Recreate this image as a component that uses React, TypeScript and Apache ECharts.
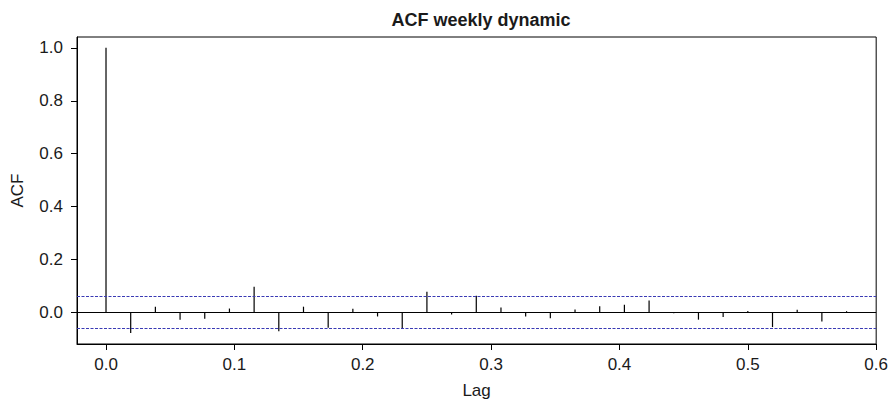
import React, { useEffect, useRef } from "react";
import * as echarts from "echarts";

const lags: number[] = Array.from({ length: 31 }, (_, i) => i / 52);
const acfValues: number[] = [
  1.0, -0.077, 0.022, -0.027, -0.024, 0.015, 0.097, -0.071, 0.022, -0.058,
  0.014, -0.015, -0.061, 0.078, -0.008, 0.063, 0.019, -0.015, -0.022, 0.011,
  0.024, 0.029, 0.045, -0.003, -0.027, -0.017, 0.006, -0.055, 0.01, -0.034,
  0.005,
];
const confLimit = 0.057;
const xTicks = [0, 0.1, 0.2, 0.3, 0.4, 0.5, 0.6];
const yTicks = [0, 0.2, 0.4, 0.6, 0.8, 1.0];

export default function App() {
  const ref = useRef<HTMLDivElement>(null);
  useEffect(() => {
    document.body.style.margin = "0";
    if (!ref.current) return;
    const chart = echarts.init(ref.current, null, { renderer: "svg" });
    const font = "'Liberation Sans', Arial, sans-serif";
    chart.setOption({
      animation: false,
      title: {
        text: "ACF weekly dynamic",
        left: 476,
        top: 6,
        textAlign: "center",
        textStyle: { fontFamily: font, fontSize: 18, fontWeight: "bold", color: "#1a1a1a" },
      },
      grid: {
        left: 77,
        right: 14,
        top: 37,
        bottom: 56,
        show: true,
        borderColor: "#000",
        borderWidth: 1,
        backgroundColor: "transparent",
      },
      xAxis: {
        type: "value",
        min: -0.0226,
        max: 0.6,
        name: "Lag",
        nameLocation: "middle",
        nameGap: 38,
        nameTextStyle: { fontFamily: font, fontSize: 17, color: "#1a1a1a" },
        axisLine: { onZero: false, lineStyle: { color: "#000" } },
        splitLine: { show: false },
        axisTick: { show: true, length: 6, customValues: xTicks, lineStyle: { color: "#000" } },
        axisLabel: {
          customValues: xTicks,
          margin: 12,
          fontFamily: font,
          fontSize: 17,
          color: "#1a1a1a",
          formatter: (v: number) => v.toFixed(1),
        },
      },
      yAxis: {
        type: "value",
        min: -0.119,
        max: 1.041,
        name: "ACF",
        nameLocation: "middle",
        nameGap: 51,
        nameTextStyle: { fontFamily: font, fontSize: 17, color: "#1a1a1a" },
        axisLine: { show: true, onZero: false, lineStyle: { color: "#000" } },
        splitLine: { show: false },
        axisTick: { show: true, length: 6, customValues: yTicks, lineStyle: { color: "#000" } },
        axisLabel: {
          customValues: yTicks,
          margin: 14,
          fontFamily: font,
          fontSize: 17,
          color: "#1a1a1a",
          formatter: (v: number) => v.toFixed(1),
        },
      },
      series: [
        {
          type: "custom",
          data: lags.map((l, i) => [l, acfValues[i]]),
          renderItem: (params: any, api: any) => {
            const x = api.value(0);
            const y = api.value(1);
            const p0 = api.coord([x, 0]);
            const p1 = api.coord([x, y]);
            return {
              type: "line",
              shape: { x1: p0[0], y1: p0[1], x2: p1[0], y2: p1[1] },
              style: { stroke: "#000", lineWidth: 1.2 },
            };
          },
          markLine: {
            silent: true,
            symbol: "none",
            label: { show: false },
            data: [
              { yAxis: 0, lineStyle: { color: "#000", type: "solid", width: 1.2 } },
              { yAxis: confLimit, lineStyle: { color: "#3a3ab4", type: [3, 1.5], width: 1 } },
              { yAxis: -confLimit, lineStyle: { color: "#3a3ab4", type: [3, 1.5], width: 1 } },
            ],
          },
        },
      ],
    });
    return () => chart.dispose();
  }, []);
  return <div ref={ref} style={{ width: 891, height: 404 }} />;
}
